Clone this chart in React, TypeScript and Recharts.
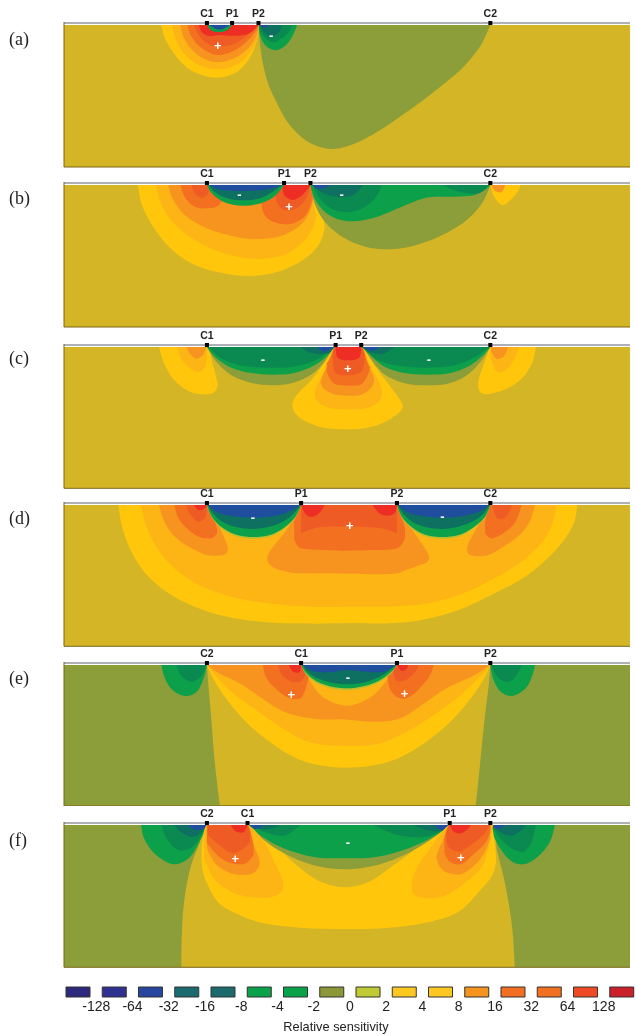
import React from 'react';
import { ComposedChart, BarChart, Bar, Cell, Area, XAxis, YAxis, ReferenceLine, ReferenceDot } from 'recharts';

type Pt = number[];
type Layer = [number, Pt[]];

const BAND_COLORS: Record<string, string> = {
  '-64': '#1F4E9E', '-16': '#0E7060', '-8': '#0A8A50', '-4': '#0DA04A', '-2': '#8C9E39',
  '0': '#D4B526', '1': '#B8BE33', '4': '#FFC60B', '8': '#FDB515', '16': '#F79420', '32': '#F37021', '64': '#EF5B25', '128': '#EE2E24',
};

// distance along the line, [top depth,] bottom depth
const BANDS_A: Layer[] = [
  [-2, [[637,0],[642,70],[650,128],[662,180],[680,228],[705,285],[735,328],[770,358],[815,372],[860,362],[920,328],[980,280],[1040,228],[1100,170],[1140,128],[1185,60],[1208,0]]],
  [-4, [[637,0],[642,35],[655,62],[680,76],[705,60],[722,30],[732,0]]],
  [-8, [[637,0],[645,25],[660,45],[675,52],[695,40],[712,20],[720,0]]],
  [-16, [[640,0],[650,20],[668,35],[685,25],[695,0]]],
  [-64, [[640,0],[650,8],[665,0]]],
  [4, [[398,0],[405,35],[420,70],[445,110],[480,142],[535,158],[585,140],[615,100],[632,50],[637,0]]],
  [8, [[425,0],[432,40],[450,80],[490,120],[535,133],[585,118],[618,80],[634,40],[637,0]]],
  [16, [[445,0],[452,35],[470,70],[500,100],[535,112],[580,98],[615,65],[633,30],[637,0]]],
  [32, [[462,0],[470,30],[490,62],[535,90],[580,75],[612,45],[632,15],[637,0]]],
  [64, [[478,0],[490,30],[510,55],[535,65],[575,58],[605,35],[630,10],[637,0]]],
  [128, [[490,0],[497,20],[515,33],[540,30],[565,32],[590,32],[615,25],[637,0]]],
  [-4, [[510,0],[520,16],[540,22],[560,16],[572,0]]],
  [-64, [[515,0],[540,14],[567,0]]],
];
const BANDS_B: Layer[] = [
  [4, [[340,0],[350,60],[375,120],[420,190],[480,240],[550,265],[615,273],[680,262],[740,230],[765,0,208],[785,40,180],[795,80,155],[800,125,130]]],
  [8, [[385,0],[395,50],[425,110],[480,165],[560,208],[640,222],[710,205],[755,160],[765,0,140],[772,50,125],[778,95,105]]],
  [16, [[415,0],[425,40],[455,90],[510,130],[580,155],[640,162],[700,150],[745,115],[765,0,75],[772,38,42]]],
  [32, [[445,0],[455,35],[480,65],[510,70],[540,60],[560,0]]],
  [64, [[472,0],[480,25],[495,38],[510,30],[520,0]]],
  [32, [[645,0],[648,80],[665,105],[710,118],[750,95],[768,50],[775,0]]],
  [64, [[680,0],[682,50],[700,75],[730,70],[755,40],[765,0]]],
  [128, [[697,0],[700,30],[722,45],[745,30],[765,0]]],
  [-4, [[510,0],[522,25],[550,50],[600,62],[650,52],[680,30],[700,0]]],
  [-16, [[515,0],[530,22],[560,40],[600,46],[645,38],[675,18],[695,0]]],
  [-64, [[515,0],[535,12],[600,18],[665,12],[695,0]]],
  [-2, [[765,0],[775,55],[800,110],[850,160],[900,185],[960,193],[1020,182],[1090,150],[1150,105],[1190,50],[1208,0]]],
  [-4, [[765,0],[775,40],[800,80],[840,105],[880,108],[930,95],[990,65],[1050,38],[1120,35],[1170,30],[1200,10],[1208,0]]],
  [-8, [[770,0],[785,35],[815,70],[855,82],[900,65],[930,30],[940,0]]],
  [-8, [[1090,0],[1130,20],[1180,25],[1205,0]]],
  [-16, [[770,0],[790,20],[830,35],[870,30],[895,0]]],
  [-64, [[770,0],[785,12],[815,0]]],
  [4, [[1208,0],[1215,30],[1230,55],[1240,60],[1262,40],[1278,15],[1282,0]]],
  [16, [[1210,0],[1220,18],[1235,22],[1245,0]]],
];
const BANDS_C: Layer[] = [
  [4, [[392,0],[405,50],[430,100],[470,135],[510,142],[525,55,138],[533,90,128],[536,105,118],[537,112,112]]],
  [8, [[437,0],[445,30],[470,65],[490,75],[505,60],[510,0]]],
  [16, [[460,0],[468,20],[485,35],[500,25],[508,0]]],
  [4, [[1178,112,112],[1180,95,128],[1185,75,137],[1200,25,142],[1208,0,140],[1240,0,130],[1285,0,95],[1312,0,45],[1320,0]]],
  [8, [[1208,0,30],[1225,0,75],[1245,0,70],[1265,0,40],[1280,0,0]]],
  [16, [[1210,0,10],[1222,0,35],[1240,0,30],[1252,0,0]]],
  [-2, [[510,0],[530,40],[570,85],[620,108],[670,115],[720,108],[770,80],[810,30],[827,0]]],
  [-4, [[510,0],[530,30],[570,62],[620,78],[670,83],[725,78],[775,55],[812,20],[827,0]]],
  [-8, [[515,0],[540,30],[590,55],[660,62],[730,58],[785,35],[820,0]]],
  [-16, [[740,0],[755,12],[790,22],[815,15],[825,0]]],
  [-64, [[780,0],[800,14],[822,0]]],
  [-2, [[890,0],[910,30],[945,80],[995,108],[1050,115],[1110,108],[1155,80],[1190,35],[1208,0]]],
  [-4, [[890,0],[910,22],[945,58],[995,78],[1050,83],[1110,78],[1155,58],[1190,25],[1208,0]]],
  [-8, [[895,0],[925,35],[975,55],[1050,62],[1120,55],[1170,30],[1205,0]]],
  [-16, [[892,0],[910,15],[945,20],[960,10],[975,0]]],
  [-64, [[895,0],[915,12],[935,0]]],
  [4, [[720,175,175],[724,158,192],[740,132,214],[770,95,232],[800,45,243],[827,0,246],[860,0,247],[890,0,245],[920,50,238],[950,100,224],[975,140,205],[989,165,190],[993,178,178]]],
  [8, [[775,145,145],[779,122,160],[790,95,172],[810,50,183],[827,0,186],[860,0,187],[890,0,186],[910,50,180],[930,95,168],[939,120,152],[942,135,135]]],
  [16, [[790,105,105],[794,88,120],[805,60,132],[827,0,143],[860,0,146],[890,0,143],[910,60,128],[919,85,115],[922,100,100]]],
  [32, [[805,50,75],[815,30,100],[827,0,112],[858,0,116],[890,0,112],[903,40,92],[911,60,70]]],
  [64, [[820,15,40],[827,0,78],[858,0,85],[890,0,75],[898,20,45]]],
  [128, [[827,0,0],[832,0,32],[858,0,40],[885,0,32],[890,0,0]]],
];
const BANDS_D: Layer[] = [
  [4, [[292,0],[300,60],[320,130],[355,200],[410,260],[480,305],[560,335],[660,352],[780,356],[860,354],[960,355],[1040,345],[1130,315],[1210,270],[1300,210],[1380,120],[1415,50],[1422,0]]],
  [8, [[348,0],[358,55],[385,125],[430,190],[490,240],[570,275],[660,295],[780,306],[860,305],[960,305],[1040,298],[1130,270],[1210,225],[1290,165],[1345,95],[1365,40],[1370,0]]],
  [16, [[392,0],[405,50],[435,100],[480,135],[510,150],[535,50,152],[555,105,148],[560,120,142],[562,130,130]]],
  [16, [[1150,135,135],[1154,115,146],[1165,90,152],[1190,35,153],[1208,0,148],[1240,0,125],[1280,0,90],[1305,0,50],[1318,0]]],
  [16, [[658,160,160],[662,145,175],[675,122,188],[700,85,198],[725,40,204],[742,0,205],[850,0,206],[978,0,205],[1000,45,195],[1030,100,182],[1052,140,172],[1058,160,160]]],
  [32, [[725,50,105],[735,15,125],[742,0,130],[800,0,136],[900,0,136],[978,0,130],[990,40,118],[998,70,100]]],
  [32, [[430,0],[440,40],[465,75],[490,95],[510,100],[525,35,98],[535,70,85]]],
  [32, [[1195,60,85],[1208,0,100],[1240,0,85],[1270,0,50],[1285,0]]],
  [64, [[458,0],[470,30],[490,50],[505,40],[510,0]]],
  [64, [[1212,0],[1225,40],[1240,42],[1255,20],[1262,0]]],
  [64, [[742,0,85],[780,0,68],[860,0,65],[940,0,70],[978,0,85]]],
  [128, [[742,0],[755,30],[770,35],[790,20],[800,0]]],
  [128, [[918,0],[935,25],[955,32],[972,25],[978,0]]],
  [128, [[478,0],[490,15],[505,10],[510,0]]],
  [1, [[510,0],[522,38],[550,74],[585,95],[625,101],[665,95],[700,72],[728,38],[742,0]]],
  [-4, [[510,0],[522,35],[550,70],[585,90],[625,96],[665,90],[700,68],[728,35],[742,0]]],
  [-16, [[512,0],[528,30],[560,58],[625,72],[690,55],[722,28],[740,0]]],
  [-64, [[512,0],[535,22],[575,34],[625,38],[680,32],[715,18],[740,0]]],
  [1, [[978,0],[990,38],[1018,74],[1050,95],[1090,101],[1130,95],[1165,72],[1195,38],[1208,0]]],
  [-4, [[978,0],[990,35],[1018,70],[1050,90],[1090,96],[1130,90],[1165,68],[1195,35],[1208,0]]],
  [-16, [[980,0],[996,30],[1028,58],[1090,72],[1155,55],[1190,28],[1206,0]]],
  [-64, [[980,0],[1003,22],[1043,34],[1090,38],[1145,32],[1183,18],[1206,0]]],
];
const BANDS_E: Layer[] = [
  [-2, [[158,0,422],[1552,0,422]]],
  [0, [[510,0],[513,50],[520,150],[530,300],[542,422],[548,480],[560,500],[1150,500],[1166,480],[1172,422],[1180,330],[1195,150],[1205,50],[1208,0]]],
  [-4, [[398,0],[405,35],[425,75],[458,93],[485,80],[502,40],[510,0]]],
  [-8, [[435,0],[445,30],[470,50],[495,35],[508,0]]],
  [-4, [[1208,0],[1216,45],[1235,82],[1262,93],[1295,70],[1312,30],[1318,0]]],
  [-8, [[1210,0],[1225,35],[1245,50],[1262,45],[1278,20],[1285,0]]],
  [4, [[510,0],[525,40],[560,105],[610,175],[670,235],[740,285],[800,303],[850,308],[910,303],[980,280],[1050,230],[1110,170],[1160,100],[1195,35],[1208,0]]],
  [8, [[510,0],[530,30],[570,80],[625,130],[690,185],[760,230],[850,242],[935,235],[1010,195],[1080,140],[1140,85],[1190,25],[1208,0]]],
  [16, [[510,0],[540,25],[590,55],[640,95],[700,140],[780,162],[850,163],[920,170],[985,160],[1040,120],[1100,70],[1170,30],[1208,0]]],
  [8, [[745,0],[765,50],[795,95],[855,122],[915,95],[950,50],[978,0]]],
  [32, [[648,0],[655,35],[680,72],[715,100],[740,100],[752,75],[760,40],[765,0]]],
  [64, [[685,0],[695,30],[720,50],[742,48],[752,30],[756,0]]],
  [128, [[712,0],[722,20],[738,22],[742,0]]],
  [32, [[955,0,40],[962,0,75],[985,0,100],[1010,0,95],[1045,0,55],[1062,0,25],[1068,0]]],
  [64, [[970,0,30],[978,0,48],[1000,0,45],[1020,0,25],[1033,0]]],
  [128, [[978,0],[990,18],[1003,10],[1005,0]]],
  [1, [[742,0],[755,30],[790,60],[855,75],[920,60],[960,30],[978,0]]],
  [-4, [[742,0],[755,25],[790,55],[855,70],[920,55],[960,25],[978,0]]],
  [-16, [[745,0],[765,28],[800,48],[855,58],[910,48],[950,25],[975,0]]],
  [-64, [[745,0],[770,18],[810,22],[855,15],[900,20],[945,20],[975,0]]],
];
const BANDS_F: Layer[] = [
  [-2, [[158,0,427],[1552,0,427]]],
  [0, [[447,400,427],[452,250,427],[470,125,427],[490,60,427],[510,0,427],[1208,0,427],[1225,80,427],[1245,180,427],[1262,310,427],[1268,420,427]]],
  [-4, [[348,0],[355,40],[385,90],[430,118],[465,100],[490,55],[505,15],[510,0]]],
  [-8, [[398,0],[410,40],[440,75],[470,70],[492,40],[505,10],[510,0]]],
  [-16, [[430,0],[445,20],[475,35],[498,20],[508,0]]],
  [-64, [[462,0],[480,14],[505,10],[510,0]]],
  [-4, [[1208,0],[1215,30],[1235,75],[1262,110],[1290,118],[1325,95],[1355,50],[1367,0]]],
  [-8, [[1210,0],[1225,30],[1260,70],[1290,80],[1310,50],[1320,0]]],
  [-16, [[1212,0],[1230,20],[1260,32],[1285,15],[1295,0]]],
  [-64, [[1212,0],[1225,12],[1245,0]]],
  [4, [[497,70,115],[500,40,140],[510,0,175],[540,0,235],[590,0,270],[650,0,295],[740,0,308],[850,0,312],[960,0,308],[1060,0,290],[1130,0,260],[1180,0,200],[1208,0,160],[1218,45,135],[1222,90,110]]],
  [0, [[640,0],[680,60],[730,120],[790,170],[850,187],[910,170],[970,120],[1030,65],[1080,0]]],
  [-2, [[615,0],[650,45],[700,85],[770,120],[850,133],[930,120],[1000,88],[1060,45],[1108,0]]],
  [-4, [[612,0],[640,30],[690,65],[770,95],[850,100],[930,95],[1010,68],[1075,30],[1108,0]]],
  [-8, [[615,0],[650,20],[700,32],[740,0]]],
  [-8, [[920,0],[980,30],[1050,35],[1090,15],[1105,0]]],
  [-16, [[615,0],[640,12],[670,10],[690,0]]],
  [-16, [[1020,0],[1050,15],[1085,18],[1105,0]]],
  [-64, [[615,0],[630,12],[650,0]]],
  [-64, [[1070,0],[1090,16],[1105,0]]],
  [8, [[503,60,95],[510,0,120],[530,0,165],[570,0,200],[610,0,215],[650,50,218],[680,120,212],[695,160,198],[698,180,180]]],
  [16, [[510,0,70],[530,0,115],[565,0,143],[605,0,150],[625,60,143],[637,95,128],[640,110,110]]],
  [32, [[510,0,55],[540,0,95],[570,0,115],[598,0,118],[610,0,112],[625,60,90]]],
  [64, [[512,0,30],[540,0,60],[575,0,85],[610,0,60],[616,30,50]]],
  [128, [[568,0],[580,18],[600,22],[610,0]]],
  [8, [[1015,182,182],[1018,155,205],[1030,122,215],[1060,70,220],[1080,35,218],[1108,0,205],[1150,0,170],[1190,0,120],[1215,0,0]]],
  [16, [[1075,97,97],[1080,75,118],[1090,50,134],[1108,0,145],[1135,0,148],[1170,0,120],[1195,0,80],[1208,0,40]]],
  [32, [[1095,40,85],[1108,0,110],[1135,0,118],[1165,0,90],[1195,0,55],[1208,0,20]]],
  [64, [[1100,20,50],[1108,0,70],[1130,0,80],[1160,0,60],[1190,0,30],[1208,0,0]]],
  [128, [[1108,0],[1118,20],[1135,25],[1155,10],[1160,0]]],
];

const ELECTRODES_A: [string, number][] = [['C1',510],['P1',572],['P2',637],['C2',1208]];
const ELECTRODES_B: [string, number][] = [['C1',510],['P1',700],['P2',765],['C2',1208]];
const ELECTRODES_C: [string, number][] = [['C1',510],['P1',827],['P2',890],['C2',1208]];
const ELECTRODES_D: [string, number][] = [['C1',510],['P1',742],['P2',978],['C2',1208]];
const ELECTRODES_E: [string, number][] = [['C2',510],['C1',742],['P1',978],['P2',1208]];
const ELECTRODES_F: [string, number][] = [['C2',510],['C1',610],['P1',1108],['P2',1208]];

const SIGNS_A: [string, number, number][] = [['-',668,30],['+',537,61]];
const SIGNS_B: [string, number, number][] = [['-',590,28],['+',712,65],['-',842,28]];
const SIGNS_C: [string, number, number][] = [['-',648,38],['+',857,65],['-',1057,38]];
const SIGNS_D: [string, number, number][] = [['-',623,38],['+',862,61],['-',1090,36]];
const SIGNS_E: [string, number, number][] = [['+',718,87],['-',857,37],['+',997,85]];
const SIGNS_F: [string, number, number][] = [['+',580,100],['-',857,52],['+',1135,97]];

const LEGEND_LABELS = ['-128','-64','-32','-16','-8','-4','-2','0','2','4','8','16','32','64','128'];
const LEGEND_COLORS = ['#2D2A7E','#2E3192','#27479F','#1B6B6E','#1B6B6E','#0AA14B','#0AA14B','#8C9738','#BFCB32','#FFC722','#FFC722','#F7941E','#F36F21','#F36F21','#EF4A26','#C9202A'];

const PANELS = [
  { tag: '(a)', labelY: 39, y0: 24.5, bottom: 166.5, bands: BANDS_A, electrodes: ELECTRODES_A, signs: SIGNS_A },
  { tag: '(b)', labelY: 198, y0: 185, bottom: 327, bands: BANDS_B, electrodes: ELECTRODES_B, signs: SIGNS_B },
  { tag: '(c)', labelY: 358, y0: 346.7, bottom: 488, bands: BANDS_C, electrodes: ELECTRODES_C, signs: SIGNS_C },
  { tag: '(d)', labelY: 518, y0: 504.7, bottom: 646, bands: BANDS_D, electrodes: ELECTRODES_D, signs: SIGNS_D },
  { tag: '(e)', labelY: 678, y0: 664.7, bottom: 805.5, bands: BANDS_E, electrodes: ELECTRODES_E, signs: SIGNS_E },
  { tag: '(f)', labelY: 840, y0: 824.7, bottom: 967, bands: BANDS_F, electrodes: ELECTRODES_F, signs: SIGNS_F },
];

const toRows = (pts: Pt[]) => pts.map((p) => ({ x: p[0], band: p.length === 3 ? [p[1], p[2]] : [0, p[1]] }));
const SANS = '"Liberation Sans", Arial, sans-serif';

// Centripetal Catmull-Rom area curve, so that contours stay round without overshooting.
function smoothContour(ctx: any) {
  let line = NaN;
  let pts: [number, number][] = [];
  return {
    areaStart() { line = 0; },
    areaEnd() { line = NaN; },
    lineStart() { pts = []; },
    point(x: number, y: number) {
      const last = pts[pts.length - 1];
      if (!last || last[0] !== x || last[1] !== y) pts.push([+x, +y]);
    },
    lineEnd() {
      const n = pts.length;
      if (n) {
        if (line) ctx.lineTo(pts[0][0], pts[0][1]); else ctx.moveTo(pts[0][0], pts[0][1]);
        for (let i = 0; i < n - 1; i++) {
          const p0 = pts[Math.max(i - 1, 0)];
          const p1 = pts[i];
          const p2 = pts[i + 1];
          const p3 = pts[Math.min(i + 2, n - 1)];
          const d = (a: number[], b: number[]) => Math.hypot(a[0] - b[0], a[1] - b[1]);
          const l01 = d(p0, p1), l12 = d(p1, p2), l23 = d(p2, p3);
          const a01 = Math.sqrt(l01), a12 = Math.sqrt(l12), a23 = Math.sqrt(l23);
          let c1 = [p1[0], p1[1]];
          let c2 = [p2[0], p2[1]];
          if (a01 > 1e-6) {
            const a = 2 * l01 + 3 * a01 * a12 + l12;
            const m = 3 * a01 * (a01 + a12);
            c1 = [(p1[0] * a - p0[0] * l12 + p2[0] * l01) / m, (p1[1] * a - p0[1] * l12 + p2[1] * l01) / m];
          }
          if (a23 > 1e-6) {
            const b = 2 * l23 + 3 * a23 * a12 + l12;
            const m = 3 * a23 * (a23 + a12);
            c2 = [(p2[0] * b + p1[0] * l23 - p3[0] * l12) / m, (p2[1] * b + p1[1] * l23 - p3[1] * l12) / m];
          }
          ctx.bezierCurveTo(c1[0], c1[1], c2[0], c2[1], p2[0], p2[1]);
        }
      }
      if (line || (line !== 0 && n === 1)) ctx.closePath();
      line = 1 - line;
    },
  };
}

function Panel({ p }: { p: (typeof PANELS)[number] }) {
  const top = 19;
  const plotH = p.bottom - p.y0 + 3;
  const depth = Math.round((p.bottom - p.y0) * 3);
  return (
    <div style={{ position: 'absolute', left: 0, top: p.y0 - 3 - top }}>
      <ComposedChart width={636} height={plotH + top + 1} margin={{ top, left: 64, right: 6, bottom: 1 }}>
        <XAxis type="number" dataKey="x" domain={[158, 1552]} hide allowDataOverflow />
        <YAxis type="number" reversed domain={[-9, depth]} hide allowDataOverflow />
        <Area data={toRows([[158, 0, depth], [1552, 0, depth]])} dataKey="band" type="linear" stroke="none" fill={BAND_COLORS['0']} fillOpacity={1} isAnimationActive={false} dot={false} activeDot={false} />
        {p.bands.map(([level, pts], i) => (
          <Area key={i} data={toRows(pts)} dataKey="band" type={smoothContour as any} stroke="none" fill={BAND_COLORS[String(level)]} fillOpacity={1} isAnimationActive={false} dot={false} activeDot={false} />
        ))}
        <ReferenceLine y={-1.5} stroke="#ffffff" strokeWidth={1} />
        <ReferenceLine y={-6} stroke="#aeb0b8" strokeWidth={2} />
        <ReferenceLine y={depth} stroke="#7a6412" strokeWidth={1} />
        <ReferenceLine x={158} stroke="#7a6412" strokeWidth={1} segment={[{ x: 158, y: 0 }, { x: 158, y: depth }]} />
        {p.signs.map(([s, x, y], i) => (
          <ReferenceDot key={'s' + i} x={x} y={y} r={0} ifOverflow="visible" shape={(d: any) => (
            <text x={d.cx} y={d.cy + 4.5} textAnchor="middle" fill="#fff" fontFamily={SANS} fontWeight={700} fontSize={13}>{s}</text>
          )} />
        ))}
        {p.electrodes.map(([name, x], i) => (
          <ReferenceDot key={'e' + i} x={x} y={-6} r={0} ifOverflow="visible" shape={(d: any) => (
            <g>
              <rect x={d.cx - 2} y={d.cy - 2} width={4} height={4} fill="#000" />
              <text x={d.cx} y={d.cy - 6} textAnchor="middle" fill="#222" fontFamily={SANS} fontWeight={700} fontSize={10.5}>{name}</text>
            </g>
          )} />
        ))}
      </ComposedChart>
    </div>
  );
}

function LegendBar() {
  const rows = LEGEND_COLORS.map((c, i) => ({ i, v: 1, c }));
  return (
    <div style={{ position: 'absolute', left: 60, top: 985 }}>
      <BarChart width={580} height={32} data={rows} margin={{ top: 2, left: 0, right: 0, bottom: 0 }}>
        <XAxis type="number" dataKey="i" domain={[-0.5, 15.5]} ticks={LEGEND_LABELS.map((_, k) => k + 0.5)}
          tickFormatter={(v: number) => LEGEND_LABELS[v - 0.5]} axisLine={false} tickLine={false} interval={0} height={20}
          tick={{ fontSize: 14, fontFamily: SANS, fill: '#222', dy: -2 }} tickMargin={0} />
        <YAxis type="number" domain={[0, 1]} hide />
        <Bar dataKey="v" barSize={24} stroke="#333" strokeWidth={1} isAnimationActive={false}>
          {rows.map((r) => <Cell key={r.i} fill={r.c} />)}
        </Bar>
      </BarChart>
    </div>
  );
}

export default function App() {
  return (
    <div style={{ position: 'fixed', left: 0, top: 0, width: 636, height: 1036, overflow: 'hidden', background: '#fff', filter: 'blur(0.3px)' }}>
      {PANELS.map((p) => (
        <React.Fragment key={p.tag}>
          <div style={{ position: 'absolute', left: 9, top: p.labelY - 11, fontFamily: '"Liberation Serif", serif', fontSize: 18, lineHeight: '22px', color: '#222' }}>{p.tag}</div>
          <Panel p={p} />
        </React.Fragment>
      ))}
      <LegendBar />
      <div style={{ position: 'absolute', left: 236, width: 200, top: 1020, textAlign: 'center', fontFamily: SANS, fontSize: 12.8, lineHeight: '14px', color: '#222' }}>Relative sensitivity</div>
    </div>
  );
}
